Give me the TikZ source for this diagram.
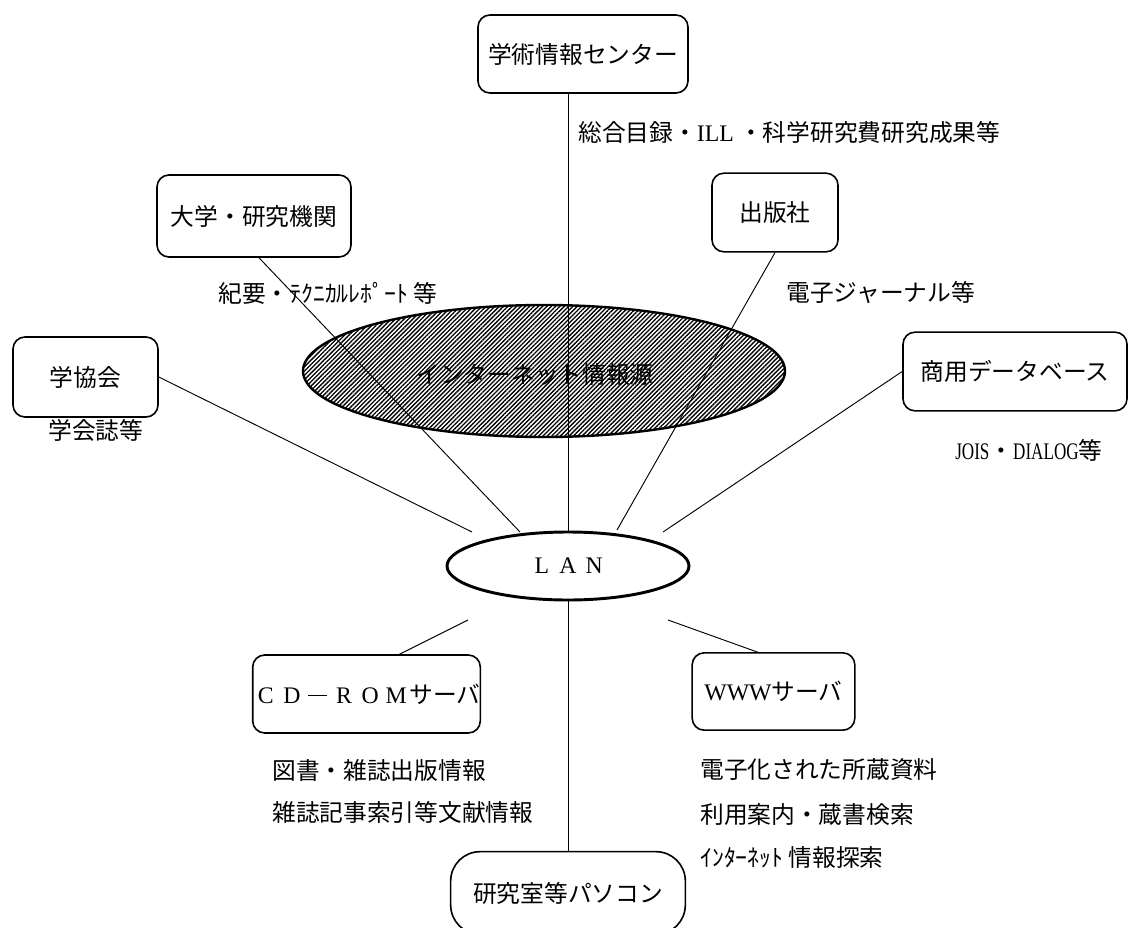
\documentclass[tikz,border=0pt]{standalone}
\usepackage{fontspec}
\setmainfont{Liberation Serif}
\newfontfamily\jp{Noto Sans CJK JP}
\usetikzlibrary{shapes.geometric,patterns.meta}
\newcommand\wl[1]{\makebox[1.1em]{#1}}
\newcommand\narrowtxt[1]{\scalebox{0.72}[1]{#1}}
\begin{document}
\begin{tikzpicture}[x=0.75pt,y=-0.75pt,
  every node/.style={font=\jp\fontsize{17.8}{20}\selectfont},
  box/.style={draw,line width=1.2pt,rounded corners=9pt,inner sep=0pt},
  conn/.style={line width=0.7pt},
  lbl/.style={anchor=west,inner sep=0pt}]
\useasboundingbox (0,0) rectangle (1130,927);
% hatched ellipse
\node[ellipse,draw,line width=1.8pt,minimum width=361.5pt,minimum height=99pt,inner sep=0pt,
  pattern={Lines[angle=45,distance=2.3pt,line width=1pt]}] (inet) at (544,371) {};
\node[inner sep=0pt] (inettxt) at (535,375) {インターネット情報源};
% LAN
\node[ellipse,draw,line width=2.2pt,minimum width=181.5pt,minimum height=51pt,inner sep=0pt] (lan) at (568,566) {{\rmfamily\wl{L}\wl{A}\wl{N}}};
% boxes
\node[box,minimum width=157.5pt,minimum height=58.5pt] (ctr) at (583,54) {学術情報センター};
\node[box,minimum width=145.5pt,minimum height=61.5pt] (univ) at (254,216) {大学・研究機関};
\node[box,minimum width=94.5pt,minimum height=59pt] (pub) at (775,212.5) {出版社};
\node[box,minimum width=108.75pt,minimum height=60pt] (soc) at (85.5,377) {学協会};
\node[box,minimum width=168pt,minimum height=59pt] (db) at (1015,371.5) {商用データベース};
\node[box,minimum width=167pt,minimum height=58.5pt] (cd) at (366.5,694) {{\rmfamily\wl{C}\wl{D}\wl{\rule[0.3em]{0.8em}{0.06em}}\wl{R}\wl{O}\wl{M}}サーバ};
\node[box,minimum width=122pt,minimum height=58pt] (www) at (773.5,691.5) {{\rmfamily WWW}サーバ};
\node[box,minimum width=176pt,minimum height=62pt,rounded corners=22pt] (pc) at (568,893) {研究室等パソコン};
% connector end coordinates near LAN
\coordinate (e1) at (472,532);
\coordinate (e2) at (520,532);
\coordinate (e4) at (617,530);
\coordinate (e5) at (663,532);
\coordinate (e6) at (468,620);
\coordinate (e7) at (668,620);
\coordinate (cdtop) at (398,655);
\coordinate (wwwtop) at (760,653);
% connectors
\draw[conn] (ctr.south -| lan.north) -- (lan.north);
\draw[conn] (lan.south) -- (pc.north);
\draw[conn] (soc.east) -- (e1);
\draw[conn] (univ.south) ++(5,0) -- (e2);
\draw[conn] (pub.south) -- (e4);
\draw[conn] (db.west) -- (e5);
\draw[conn] (e6) -- (cdtop);
\draw[conn] (e7) -- (wwwtop);
% labels
\node[lbl] (l1) at (578,133) {総合目録・{\rmfamily ILL} ・科学研究費研究成果等};
\node[lbl] (l2) at (218,293) {紀要・ﾃｸﾆｶﾙﾚﾎﾟｰﾄ 等};
\node[lbl] (l3) at (786,293) {電子ジャーナル等};
\node[lbl] (l4) at (48,430) {学会誌等};
\node[lbl] (l5) at (955,450) {\narrowtxt{\rmfamily JOIS}・\narrowtxt{\rmfamily DIALOG}等};
\node[lbl] (l6) at (272,770) {図書・雑誌出版情報};
\node[lbl] (l7) at (272,812) {雑誌記事索引等文献情報};
\node[lbl] (l8) at (700,770) {電子化された所蔵資料};
\node[lbl] (l9) at (700,815) {利用案内・蔵書検索};
\node[lbl] (l10) at (700,857) {ｲﾝﾀｰﾈｯﾄ 情報探索};
\end{tikzpicture}
\end{document}
